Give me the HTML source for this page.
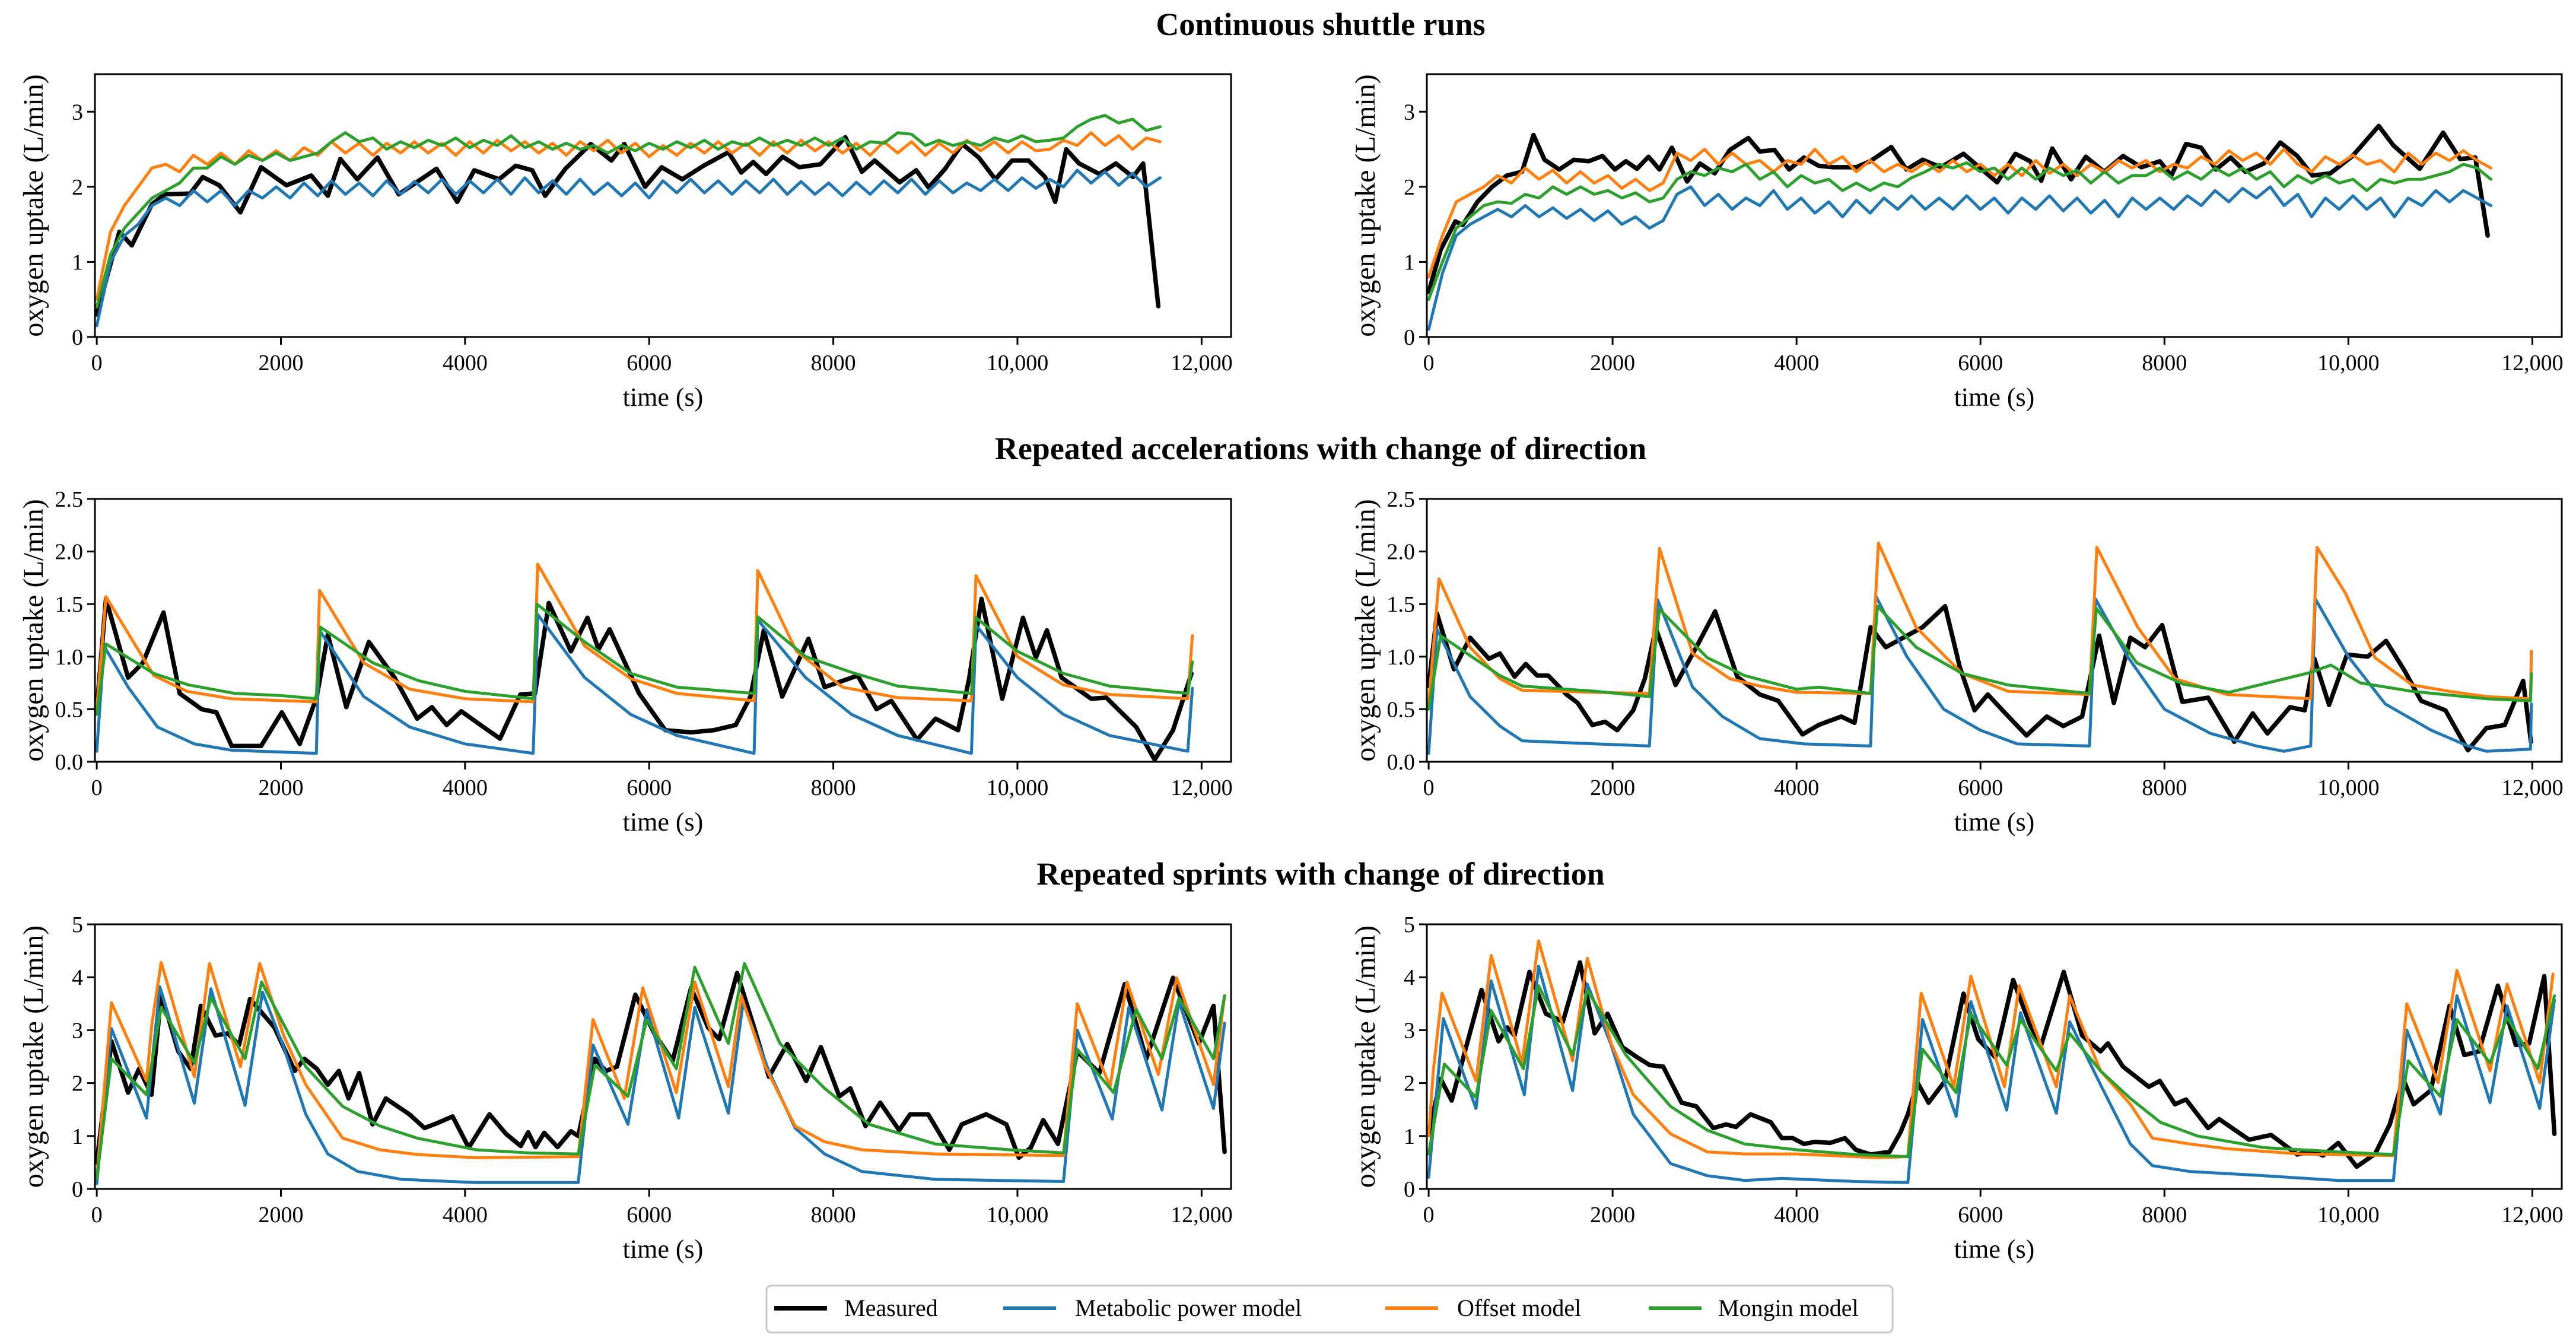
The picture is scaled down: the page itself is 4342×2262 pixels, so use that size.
<!DOCTYPE html>
<html><head><meta charset="utf-8">
<style>
html,body{margin:0;padding:0;background:#fff;}
svg{display:block;font-family:"Liberation Serif","DejaVu Serif",serif;}
</style></head>
<body>
<svg id="fig" xmlns="http://www.w3.org/2000/svg" width="4342" height="2262" viewBox="0 0 4342 2262">
<rect width="4342" height="2262" fill="#fff"/>
<text x="2226" y="59" text-anchor="middle" font-size="54" font-weight="bold">Continuous shuttle runs</text>
<text x="2226" y="774" text-anchor="middle" font-size="54" font-weight="bold">Repeated accelerations with change of direction</text>
<text x="2226" y="1491" text-anchor="middle" font-size="54" font-weight="bold">Repeated sprints with change of direction</text>
<g id="panels"></g>
<g>
<rect x="1292" y="2167" width="1898" height="79" rx="8" fill="#fff" stroke="#c8c8c8" stroke-width="3"/>
<g><line x1="1305" y1="2205" x2="1394" y2="2205" stroke="#000" stroke-width="8"/><text x="1423" y="2218" font-size="40">Measured</text></g>
<g><line x1="1691" y1="2205" x2="1780" y2="2205" stroke="#1f77b4" stroke-width="6"/><text x="1812" y="2218" font-size="40">Metabolic power model</text></g>
<g><line x1="2335" y1="2205" x2="2424" y2="2205" stroke="#ff7f0e" stroke-width="6"/><text x="2456" y="2218" font-size="40">Offset model</text></g>
<g><line x1="2779" y1="2205" x2="2868" y2="2205" stroke="#2ca02c" stroke-width="6"/><text x="2896" y="2218" font-size="40">Mongin model</text></g>
</g>
</svg>
<script>
// ---------- shared ----------
const xTicks = [0, 2000, 4000, 6000, 8000, 10000, 12000];
const xTickLabels = ["0", "2000", "4000", "6000", "8000", "10,000", "12,000"];
const gridA = [0,150,300,450,600,750,900,1050,1200,1350,1500,1650,1800,1950,2100,2250,2400,2550,2700,2850,3000,3150,3300,3450,3600,3750,3900,4050,4200,4350,4500,4650,4800,4950,5100,5250,5400,5550,5700,5850,6000,6150,6300,6450,6600,6750,6900,7050,7200,7350,7500,7650,7800,7950,8100,8250,8400,8550,8700,8850,9000,9150,9300,9450,9600,9750,9900,10050,10200,10350,10500,10650,10800,10950,11100,11250,11400,11550];
const yTicks1 = [0, 1, 2, 3];
const yTicks2 = [0, 0.5, 1.0, 1.5, 2.0, 2.5];
const yTickLabels2 = ["0.0", "0.5", "1.0", "1.5", "2.0", "2.5"];
const yTicks3 = [0, 1, 2, 3, 4, 5];

// ---------- panel A (continuous, left) ----------
const measA_t = [0,245,380,600,740,1015,1150,1330,1560,1785,2060,2330,2510,2645,2830,3050,3280,3690,3915,4100,4370,4550,4730,4870,5090,5365,5590,5730,5955,6135,6360,6590,6860,7000,7130,7270,7450,7630,7860,8130,8310,8450,8720,8900,9035,9215,9400,9580,9760,9940,10120,10300,10410,10530,10670,10890,11070,11255,11365,11530];
const measA_v = [0.3,1.4,1.22,1.77,1.9,1.91,2.13,2.02,1.66,2.26,2.02,2.15,1.88,2.37,2.1,2.39,1.9,2.24,1.8,2.22,2.1,2.28,2.22,1.88,2.24,2.57,2.35,2.57,2.0,2.26,2.1,2.28,2.46,2.19,2.33,2.17,2.4,2.26,2.3,2.66,2.2,2.35,2.06,2.22,1.99,2.24,2.57,2.39,2.1,2.35,2.35,2.13,1.8,2.5,2.31,2.17,2.31,2.13,2.31,0.41];
const metA_v = [0.15,1.0,1.35,1.5,1.75,1.85,1.75,1.95,1.8,1.95,1.75,1.95,1.85,2.0,1.85,2.05,1.88,2.08,1.9,2.05,1.88,2.08,1.9,2.07,1.92,2.1,1.9,2.08,1.92,2.1,1.9,2.12,1.92,2.08,1.9,2.1,1.9,2.05,1.88,2.05,1.85,2.08,1.92,2.1,1.92,2.08,1.9,2.08,1.92,2.1,1.9,2.07,1.9,2.05,1.88,2.06,1.9,2.08,1.92,2.1,1.9,2.08,1.92,2.05,1.95,2.1,1.95,2.12,1.98,2.1,2.0,2.22,2.05,2.2,2.02,2.18,2.0,2.12];
const offA_v = [0.5,1.4,1.75,2.0,2.25,2.3,2.2,2.42,2.3,2.45,2.3,2.48,2.35,2.48,2.35,2.52,2.42,2.6,2.45,2.58,2.42,2.58,2.45,2.6,2.45,2.58,2.42,2.6,2.45,2.62,2.48,2.6,2.45,2.58,2.42,2.6,2.48,2.62,2.45,2.58,2.4,2.55,2.42,2.58,2.45,2.6,2.45,2.58,2.42,2.6,2.45,2.62,2.48,2.6,2.45,2.58,2.42,2.6,2.45,2.6,2.42,2.58,2.45,2.62,2.48,2.6,2.45,2.6,2.48,2.5,2.62,2.55,2.72,2.55,2.68,2.5,2.65,2.6];
const monA_v = [0.4,1.1,1.45,1.65,1.85,1.95,2.05,2.25,2.25,2.4,2.3,2.42,2.35,2.45,2.35,2.4,2.45,2.6,2.72,2.6,2.65,2.5,2.6,2.52,2.62,2.55,2.65,2.52,2.62,2.55,2.68,2.52,2.6,2.5,2.58,2.5,2.55,2.45,2.55,2.48,2.58,2.5,2.6,2.52,2.62,2.5,2.6,2.55,2.65,2.55,2.62,2.55,2.65,2.55,2.65,2.5,2.6,2.58,2.72,2.7,2.55,2.62,2.55,2.6,2.55,2.65,2.6,2.68,2.6,2.62,2.65,2.8,2.9,2.95,2.85,2.9,2.75,2.8];

// ---------- panel B (continuous, right) ----------
const measB_t = [0,130,290,370,530,690,850,1015,1140,1260,1420,1580,1740,1890,2025,2145,2265,2390,2510,2645,2810,2950,3110,3275,3475,3600,3760,3920,4080,4240,4400,4645,4800,5030,5195,5370,5570,5815,6015,6180,6380,6540,6660,6780,6985,7145,7345,7550,7750,7950,8075,8235,8400,8560,8720,8880,9080,9260,9445,9610,9805,10045,10330,10490,10775,11030,11215,11380,11515];
const measB_v = [0.6,1.16,1.54,1.49,1.8,2.0,2.15,2.2,2.69,2.36,2.23,2.36,2.34,2.41,2.23,2.34,2.24,2.4,2.23,2.52,2.07,2.31,2.18,2.49,2.65,2.47,2.49,2.23,2.39,2.28,2.26,2.26,2.34,2.53,2.23,2.36,2.26,2.44,2.23,2.06,2.44,2.34,2.08,2.51,2.1,2.4,2.2,2.41,2.26,2.34,2.15,2.57,2.52,2.23,2.39,2.2,2.31,2.59,2.41,2.15,2.18,2.41,2.81,2.55,2.24,2.72,2.37,2.39,1.35];
const metB_v = [0.1,0.85,1.35,1.5,1.6,1.7,1.6,1.75,1.6,1.72,1.58,1.7,1.55,1.68,1.5,1.6,1.45,1.55,1.9,2.0,1.75,1.9,1.7,1.85,1.75,1.95,1.7,1.85,1.65,1.8,1.6,1.82,1.65,1.85,1.7,1.88,1.7,1.85,1.7,1.88,1.7,1.85,1.65,1.85,1.7,1.88,1.68,1.85,1.65,1.82,1.6,1.85,1.7,1.85,1.7,1.88,1.75,1.95,1.8,1.98,1.85,2.0,1.75,1.9,1.6,1.85,1.7,1.88,1.7,1.85,1.6,1.85,1.75,1.95,1.8,1.95,1.85,1.75];
const offB_v = [0.8,1.35,1.8,1.9,2.0,2.15,2.05,2.25,2.1,2.22,2.05,2.2,2.05,2.15,1.98,2.1,1.95,2.05,2.45,2.35,2.5,2.3,2.45,2.3,2.35,2.2,2.35,2.3,2.5,2.3,2.4,2.2,2.35,2.2,2.3,2.2,2.32,2.2,2.35,2.2,2.3,2.15,2.3,2.15,2.35,2.18,2.3,2.15,2.3,2.2,2.35,2.25,2.35,2.2,2.3,2.25,2.4,2.3,2.48,2.35,2.45,2.3,2.5,2.3,2.2,2.4,2.3,2.42,2.3,2.35,2.2,2.45,2.3,2.45,2.35,2.48,2.35,2.25];
const monB_v = [0.5,1.0,1.45,1.6,1.75,1.8,1.78,1.9,1.85,2.0,1.9,2.0,1.9,1.95,1.85,1.92,1.8,1.85,2.1,2.2,2.15,2.25,2.2,2.3,2.1,2.2,2.0,2.15,2.05,2.1,1.95,2.05,1.95,2.05,2.0,2.12,2.2,2.3,2.25,2.32,2.2,2.25,2.1,2.25,2.1,2.25,2.15,2.22,2.05,2.2,2.05,2.15,2.15,2.25,2.1,2.2,2.1,2.25,2.15,2.25,2.1,2.2,2.0,2.15,2.05,2.15,2.05,2.1,1.95,2.1,2.05,2.1,2.1,2.15,2.2,2.3,2.25,2.1];

// ---------- panel C (accelerations, left) ----------
const measC_t = [0,100,340,500,725,900,1140,1300,1465,1785,2010,2205,2390,2510,2710,2955,3235,3480,3640,3800,3960,4200,4380,4600,4760,4910,5150,5330,5450,5570,5890,6175,6455,6700,6940,7100,7245,7445,7730,7905,8265,8470,8630,8910,9110,9355,9475,9610,9835,10060,10200,10320,10480,10800,10965,11290,11490,11690,11890];
const measC_v = [0.5,1.55,0.8,0.94,1.42,0.65,0.5,0.47,0.15,0.15,0.47,0.17,0.62,1.21,0.52,1.14,0.8,0.41,0.52,0.35,0.48,0.33,0.22,0.64,0.65,1.51,1.05,1.37,1.07,1.26,0.65,0.3,0.28,0.3,0.35,0.62,1.25,0.62,1.17,0.71,0.82,0.5,0.58,0.21,0.41,0.3,0.79,1.55,0.6,1.37,0.99,1.25,0.8,0.6,0.61,0.33,0.02,0.3,0.84];
const offC_t = [0,100,620,980,1465,2385,2420,2900,3400,4000,4740,4790,5300,5800,6300,7140,7180,7600,8100,8700,9500,9550,10000,10500,11000,11850,11900];
const offC_v = [0.5,1.57,0.82,0.67,0.6,0.57,1.63,0.94,0.69,0.6,0.57,1.88,1.1,0.79,0.65,0.58,1.82,1.05,0.71,0.61,0.58,1.77,1.0,0.73,0.64,0.6,1.2];
const monC_t = [0,100,620,1000,1500,2000,2385,2430,3000,3500,4000,4740,4780,5300,5800,6300,7140,7180,7700,8200,8700,9500,9550,10000,10500,11000,11850,11900];
const monC_v = [0.45,1.12,0.84,0.73,0.65,0.63,0.6,1.28,0.94,0.77,0.67,0.6,1.5,1.14,0.84,0.71,0.65,1.38,1.0,0.85,0.72,0.65,1.37,1.05,0.84,0.72,0.65,0.95];
const metC_t = [0,80,340,660,1060,1465,2385,2420,2900,3400,4000,4740,4790,5300,5800,6300,7140,7180,7700,8200,8700,9500,9550,10000,10500,11000,11850,11900];
const metC_v = [0.1,1.1,0.71,0.33,0.17,0.11,0.08,1.25,0.62,0.33,0.17,0.08,1.4,0.8,0.45,0.25,0.08,1.35,0.8,0.45,0.25,0.08,1.3,0.8,0.45,0.25,0.1,0.7];

// ---------- panel D (accelerations, right) ----------
const measD_t = [0,90,275,450,655,775,935,1055,1180,1300,1500,1620,1780,1920,2050,2225,2350,2470,2685,2910,3115,3355,3600,3800,4065,4240,4485,4630,4805,4970,5370,5615,5775,5935,6080,6260,6500,6720,6900,7105,7290,7450,7630,7790,7975,8195,8475,8760,8960,9120,9365,9525,9630,9790,9985,10210,10410,10615,10790,11055,11300,11500,11700,11900,11985];
const measD_v = [0.72,1.41,0.88,1.18,0.98,1.03,0.81,0.93,0.82,0.82,0.64,0.56,0.35,0.38,0.3,0.49,0.79,1.27,0.73,1.09,1.43,0.81,0.64,0.58,0.26,0.35,0.43,0.37,1.28,1.09,1.28,1.48,0.9,0.49,0.64,0.47,0.25,0.43,0.34,0.43,1.2,0.56,1.18,1.09,1.3,0.57,0.61,0.19,0.46,0.27,0.52,0.49,0.98,0.54,1.02,1.0,1.15,0.86,0.58,0.49,0.11,0.32,0.35,0.77,0.19];
const offD_t = [0,113,450,775,1015,1820,2400,2510,2870,3275,3600,4000,4805,4890,5300,5800,6300,7185,7265,7710,8115,8680,9590,9660,9970,10290,10695,11100,11500,11980,11990];
const offD_v = [0.55,1.74,1.09,0.79,0.68,0.66,0.65,2.03,1.03,0.79,0.72,0.66,0.65,2.08,1.28,0.84,0.67,0.64,2.04,1.28,0.79,0.64,0.6,2.04,1.6,0.99,0.73,0.67,0.62,0.6,1.05];
const monD_t = [0,130,450,775,1015,1820,2400,2510,3030,3435,4000,4240,4805,4880,5300,5800,6300,7185,7260,7700,8200,8700,9590,9810,10130,10695,11500,11980,11990];
const monD_v = [0.5,1.2,1.01,0.82,0.72,0.67,0.62,1.45,0.99,0.82,0.69,0.71,0.65,1.48,1.09,0.84,0.73,0.65,1.46,0.94,0.74,0.66,0.85,0.92,0.75,0.67,0.6,0.58,0.84];
const metD_t = [0,90,450,775,1015,1820,2400,2490,2870,3195,3600,4080,4805,4860,5200,5600,6000,6400,7185,7250,7600,8000,8500,9000,9300,9590,9640,10000,10400,10900,11300,11500,11980,11990];
const metD_v = [0.08,1.26,0.62,0.34,0.2,0.17,0.15,1.54,0.71,0.43,0.22,0.17,0.15,1.58,1.0,0.5,0.3,0.17,0.15,1.55,1.0,0.5,0.27,0.15,0.1,0.15,1.55,1.0,0.55,0.3,0.15,0.1,0.12,0.55];

// ---------- panel E (sprints, left) ----------
const measE_t = [0,160,340,460,595,700,885,1020,1130,1290,1425,1545,1665,1930,2150,2255,2390,2510,2630,2735,2850,2995,3140,3395,3560,3720,3865,4040,4265,4445,4605,4685,4765,4860,5005,5150,5230,5410,5530,5650,5850,6055,6255,6455,6640,6760,6955,7140,7300,7500,7705,7865,8065,8185,8350,8510,8715,8835,9030,9260,9395,9660,9880,10015,10145,10280,10440,10650,10890,11165,11400,11690,11970,12130,12250];
const measE_v = [0.5,2.79,1.82,2.27,1.78,3.69,2.6,2.27,3.46,2.9,2.94,2.72,3.59,3.05,2.23,2.46,2.27,1.97,2.23,1.71,2.19,1.22,1.71,1.41,1.15,1.26,1.37,0.78,1.41,1.04,0.81,1.07,0.79,1.06,0.79,1.09,1.0,2.46,2.23,2.31,3.67,2.94,2.42,3.8,3.05,2.83,4.08,3.05,2.12,2.74,2.04,2.68,1.75,1.9,1.19,1.63,1.11,1.41,1.41,0.74,1.22,1.41,1.22,0.59,0.78,1.3,0.85,2.6,2.19,3.87,2.46,3.99,2.75,3.46,0.7];
const offE_t = [0,160,540,600,700,1060,1225,1560,1770,2030,2270,2670,3075,3480,4120,5230,5390,5730,5930,6295,6495,6860,7000,7260,7585,7905,8310,9110,10500,10650,11005,11190,11530,11730,12130,12250];
const offE_v = [0.2,3.52,2.04,3.13,4.28,2.12,4.26,2.31,4.26,2.9,1.97,0.96,0.74,0.65,0.59,0.61,3.2,1.71,3.8,1.82,3.91,1.93,3.65,2.31,1.19,0.89,0.74,0.66,0.63,3.5,1.93,3.91,2.16,3.99,1.97,3.65];
const monE_t = [0,160,540,700,1060,1240,1610,1790,2270,2670,3075,3480,4120,4690,5230,5410,5770,5975,6295,6495,6860,7035,7420,7905,8390,9110,9915,10500,10650,11045,11290,11570,11755,12130,12250];
const monE_v = [0.2,2.46,1.78,3.43,2.38,3.61,2.46,3.91,2.31,1.56,1.19,0.96,0.74,0.68,0.66,2.34,1.75,3.2,2.27,4.19,2.75,4.26,2.75,1.9,1.22,0.85,0.74,0.68,2.64,1.82,3.39,2.46,3.61,2.46,3.65];
const metE_t = [0,160,540,685,1060,1240,1610,1800,2030,2270,2510,2835,3315,4120,5230,5390,5770,5975,6320,6495,6860,7020,7300,7585,7905,8310,9110,10500,10650,11030,11210,11570,11755,12130,12250];
const metE_v = [0.1,3.03,1.34,3.82,1.62,3.78,1.58,3.72,2.68,1.41,0.66,0.33,0.18,0.12,0.12,2.72,1.22,3.39,1.34,3.43,1.43,3.52,2.23,1.15,0.66,0.33,0.18,0.14,3.0,1.32,3.43,1.49,3.54,1.52,3.13];

// ---------- panel F (sprints, right) ----------
const measF_t = [0,130,250,575,760,855,935,1095,1275,1460,1645,1805,1945,2105,2265,2405,2550,2750,2910,3095,3235,3340,3500,3720,3840,3960,4080,4200,4365,4525,4645,4805,5010,5130,5210,5315,5435,5615,5815,5975,6160,6355,6540,6660,6905,7105,7305,7385,7550,7830,7950,8115,8235,8475,8595,8920,9160,9445,9605,9725,9890,10090,10290,10450,10595,10710,10895,11100,11260,11420,11625,11820,11965,12130,12240];
const measF_v = [1.04,2.08,1.67,3.76,2.79,3.05,2.9,4.1,3.31,3.16,4.28,2.94,3.31,2.68,2.49,2.34,2.31,1.63,1.56,1.15,1.22,1.17,1.41,1.26,0.96,0.96,0.85,0.89,0.87,0.96,0.74,0.65,0.7,1.07,1.41,2.01,1.63,2.04,3.69,2.83,2.49,3.95,3.09,2.72,4.1,2.9,2.6,2.75,2.31,1.93,2.04,1.6,1.69,1.15,1.32,0.93,1.02,0.65,0.72,0.63,0.87,0.42,0.66,1.22,2.08,1.6,1.86,3.46,2.53,2.6,3.84,2.72,2.75,4.02,1.04];
const offF_t = [0,50,145,515,680,1015,1195,1565,1725,1985,2225,2630,3030,3435,4000,4885,5210,5355,5710,5895,6260,6420,6825,6970,7305,7630,7870,8275,8680,9485,10490,10635,10975,11180,11540,11725,12080,12225];
const offF_v = [1.0,2.23,3.7,2.04,4.41,2.38,4.69,2.42,4.36,2.75,1.78,1.04,0.7,0.66,0.66,0.59,0.61,3.7,1.93,4.02,1.93,3.84,1.93,3.65,2.23,1.6,0.96,0.85,0.76,0.66,0.63,3.5,2.01,4.13,2.23,3.87,2.01,4.06];
const monF_t = [0,170,515,680,1030,1195,1565,1725,2145,2630,3030,3435,4000,4645,5210,5370,5735,5895,6285,6435,6825,6970,7305,7630,7955,8360,9080,9890,10490,10650,11000,11180,11540,11725,12060,12240];
const monF_v = [0.66,2.36,1.73,3.37,2.27,3.84,2.53,3.76,2.53,1.56,1.11,0.85,0.74,0.65,0.61,2.64,1.82,3.31,2.34,3.2,2.23,2.94,2.23,1.71,1.26,1.0,0.78,0.7,0.65,2.42,1.75,3.2,2.38,3.24,2.27,3.65];
const metF_t = [0,160,515,680,1040,1195,1565,1725,1985,2225,2630,3030,3435,3840,4645,5210,5370,5735,5895,6285,6435,6825,6970,7305,7630,7870,8275,9080,9890,10490,10635,11000,11180,11540,11725,12080,12240];
const metF_v = [0.22,3.22,1.52,3.93,1.78,4.21,1.86,3.87,2.72,1.41,0.48,0.25,0.16,0.2,0.14,0.12,3.2,1.37,3.54,1.49,3.33,1.43,3.16,1.97,0.85,0.44,0.33,0.25,0.16,0.16,3.0,1.41,3.65,1.63,3.46,1.52,3.57];

// ---------- rendering ----------
const NS = "http://www.w3.org/2000/svg";
const XMIN = -20, XMAX = 12320;
const COLORS = {meas:"#000000", met:"#1f77b4", off:"#ff7f0e", mon:"#2ca02c"};
const panelsDef = [
  {id:"A", x:160,  y:125,  w:1915, h:443, ymax:3.5, yt:yTicks1, yl:yTicks1.map(String), s:[[measA_t,measA_v,"meas"],[gridA,metA_v,"met"],[gridA,offA_v,"off"],[gridA,monA_v,"mon"]]},
  {id:"B", x:2405, y:125,  w:1913, h:443, ymax:3.5, yt:yTicks1, yl:yTicks1.map(String), s:[[measB_t,measB_v,"meas"],[gridA,metB_v,"met"],[gridA,offB_v,"off"],[gridA,monB_v,"mon"]]},
  {id:"C", x:160,  y:841,  w:1915, h:443, ymax:2.5, yt:yTicks2, yl:yTickLabels2, s:[[measC_t,measC_v,"meas"],[metC_t,metC_v,"met"],[offC_t,offC_v,"off"],[monC_t,monC_v,"mon"]]},
  {id:"D", x:2405, y:841,  w:1913, h:443, ymax:2.5, yt:yTicks2, yl:yTickLabels2, s:[[measD_t,measD_v,"meas"],[metD_t,metD_v,"met"],[offD_t,offD_v,"off"],[monD_t,monD_v,"mon"]]},
  {id:"E", x:160,  y:1558, w:1915, h:446, ymax:5, yt:yTicks3, yl:yTicks3.map(String), s:[[measE_t,measE_v,"meas"],[metE_t,metE_v,"met"],[offE_t,offE_v,"off"],[monE_t,monE_v,"mon"]]},
  {id:"F", x:2405, y:1558, w:1913, h:446, ymax:5, yt:yTicks3, yl:yTicks3.map(String), s:[[measF_t,measF_v,"meas"],[metF_t,metF_v,"met"],[offF_t,offF_v,"off"],[monF_t,monF_v,"mon"]]}
];
const root = document.getElementById("panels");
function mk(tag, attrs, parent){
  const e = document.createElementNS(NS, tag);
  for (const k in attrs) e.setAttribute(k, attrs[k]);
  parent.appendChild(e);
  return e;
}
const defs = mk("defs", {}, root);
panelsDef.forEach(p => {
  const sx = t => p.x + (t - XMIN) / (XMAX - XMIN) * p.w;
  const sy = v => p.y + p.h - v / p.ymax * p.h;
  const g = mk("g", {}, root);
  
  
  const cp = mk("clipPath", {id:"clip" + p.id}, defs);
  mk("rect", {x:p.x, y:p.y, width:p.w, height:p.h}, cp);
  const sg = mk("g", {"clip-path":"url(#clip" + p.id + ")"}, g);
  p.s.forEach(([ts, vs, key]) => {
    const pts = ts.map((t, i) => sx(t).toFixed(1) + "," + sy(vs[i]).toFixed(1)).join(" ");
    const pl = mk("polyline", {points:pts, fill:"none", stroke:COLORS[key], "stroke-width": key === "meas" ? 7.5 : 5, "stroke-linejoin":"round", "stroke-linecap":"round"}, sg);
    
    
  });
  const fr = mk("rect", {x:p.x, y:p.y, width:p.w, height:p.h, fill:"none", stroke:"#000", "stroke-width":3}, g);
  
  
  xTicks.forEach((t, i) => {
    const x = sx(t);
    mk("line", {x1:x, y1:p.y + p.h, x2:x, y2:p.y + p.h + 13, stroke:"#000", "stroke-width":3}, g);
    const tx = mk("text", {x:x, y:p.y + p.h + 56, "text-anchor":"middle", "font-size":38}, g);
    tx.textContent = xTickLabels[i];
    
    
  });
  p.yt.forEach((v, i) => {
    const y = sy(v);
    mk("line", {x1:p.x - 13, y1:y, x2:p.x, y2:y, stroke:"#000", "stroke-width":3}, g);
    const ty = mk("text", {x:p.x - 20, y:y + 13, "text-anchor":"end", "font-size":38}, g);
    ty.textContent = p.yl[i];
    
    
  });
  const xl = mk("text", {x:p.x + p.w / 2, y:p.y + p.h + 116, "text-anchor":"middle", "font-size":44}, g);
  xl.textContent = "time (s)";
  
  
  const lx = p.x - 88, ly = p.y + p.h / 2;
  const yl = mk("text", {x:lx, y:ly, "text-anchor":"middle", "font-size":48, transform:"rotate(-90 " + lx + " " + ly + ")"}, g);
  yl.textContent = "oxygen uptake (L/min)";
  
  
});
</script>
</body></html>
